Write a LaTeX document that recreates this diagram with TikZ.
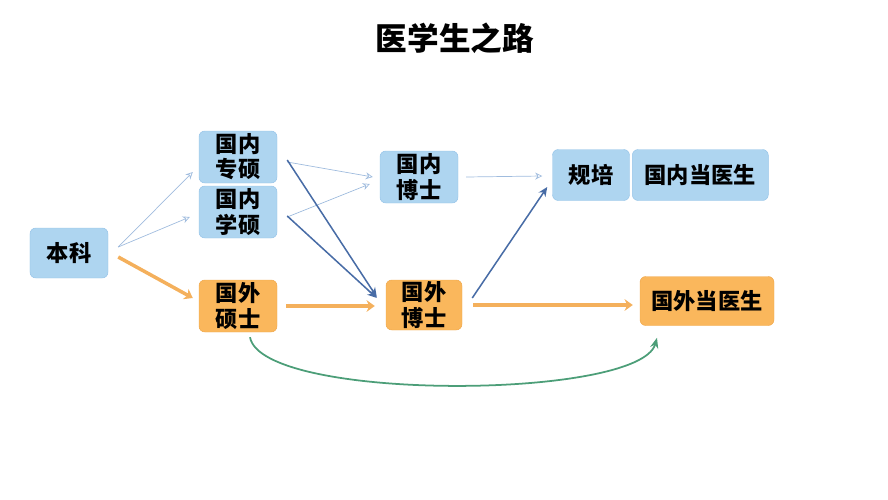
\documentclass[tikz,border=0pt]{standalone}
\usepackage{fontspec}
\setmainfont{Noto Sans CJK SC}
\usepackage{tikz}
\usetikzlibrary{arrows.meta,positioning}
\usepackage{xcolor}
\definecolor{boxblue}{RGB}{174,213,240}
\definecolor{boxblueline}{RGB}{150,196,232}
\definecolor{boxorange}{RGB}{250,183,92}
\definecolor{boxorangeline}{RGB}{240,168,76}
\definecolor{lightarrow}{RGB}{160,188,222}
\definecolor{darkarrow}{RGB}{72,108,166}
\definecolor{orangearrow}{RGB}{244,176,92}
\definecolor{greenarrow}{RGB}{76,158,120}
\tikzstyle{domestic} = [rectangle, rounded corners=5pt, minimum width=2.34cm, minimum height=1.56cm, align=center, draw=boxblueline, fill=boxblue, font=\fontsize{19}{21.5}\selectfont\bfseries, inner sep=1pt]
\tikzstyle{abroad} = [domestic, draw=boxorangeline, fill=boxorange]
\tikzstyle{thin arrow} = [->, >={Stealth[length=6pt,width=6pt,open]}, line width=0.6pt, color=lightarrow]
\tikzstyle{dark arrow} = [->, >={Stealth[length=8pt,width=7pt]}, line width=1.3pt, color=darkarrow]
\tikzstyle{orange arrow} = [->, >={Stealth[length=7pt,width=10pt]}, line width=3pt, color=orangearrow]

\begin{document}
\begin{tikzpicture}[x=0.03cm, y=-0.03cm]
\useasboundingbox (0,0) rectangle (888,500);
% Title
\node (title) at (455,38) {\fontsize{27}{30}\selectfont\bfseries 医学生之路};

% Boxes
\node (benke) [domestic, minimum width=2.34cm, minimum height=1.5cm] at (69,253) {本科};
\node (zhuanshuo) [domestic] at (238,157) {国内\\专硕};
\node (xueshuo) [domestic] at (238,212) {国内\\学硕};
\node (guowaishuo) [abroad] at (238,306) {国外\\硕士};
\node (guoneibo) [domestic] at (419,177) {国内\\博士};
\node (guowaibo) [abroad, minimum width=2.28cm, minimum height=1.5cm] at (424,305) {国外\\博士};
\node (guipei) [domestic, minimum width=2.31cm, minimum height=1.53cm] at (591,175) {规培};
\node (guoneiyisheng) [domestic, right=2pt of guipei, minimum width=4.08cm, minimum height=1.53cm] {国内当医生};
\node (guowaiyisheng) [abroad, minimum width=4.02cm, minimum height=1.47cm] at (707,301) {国外当医生};

% Arrows
\draw[thin arrow] ([shift={(10,-6)}]benke.east) -- ([shift={(-6,15)}]zhuanshuo.west);
\draw[thin arrow] ([shift={(10,-6)}]benke.east) -- ([shift={(-9,5)}]xueshuo.west);
\draw[orange arrow] ([shift={(10,4)}]benke.east) -- ([shift={(-6,-8)}]guowaishuo.west);
\draw[thin arrow] ([shift={(10,5)}]zhuanshuo.east) -- ([shift={(-7,0)}]guoneibo.west);
\draw[thin arrow] ([shift={(10,5)}]xueshuo.east) -- ([shift={(-10,7)}]guoneibo.west);
\draw[dark arrow] ([shift={(10,3)}]zhuanshuo.east) -- ([shift={(-9,-8)}]guowaibo.west);
\draw[dark arrow] ([shift={(10,4)}]xueshuo.east) -- ([shift={(-9,-7)}]guowaibo.west);
\draw[orange arrow] ([shift={(9,0)}]guowaishuo.east) -- ([shift={(-11,1)}]guowaibo.west);
\draw[thin arrow] ([shift={(8,0)}]guoneibo.east) -- ([shift={(-10,1)}]guipei.west);
\draw[dark arrow] ([shift={(10,-7)}]guowaibo.east) -- ([shift={(-5,12)}]guipei.west);
\draw[orange arrow] ([shift={(11,0)}]guowaibo.east) -- ([shift={(-7,4)}]guowaiyisheng.west);
\draw[->, >={Stealth[length=9pt,width=7pt]}, line width=1.5pt, greenarrow] ([shift={(12,5)}]guowaishuo.south) .. controls (262,402) and (640,400) .. ([shift={(-50,12)}]guowaiyisheng.south);

\end{tikzpicture}
\end{document}
